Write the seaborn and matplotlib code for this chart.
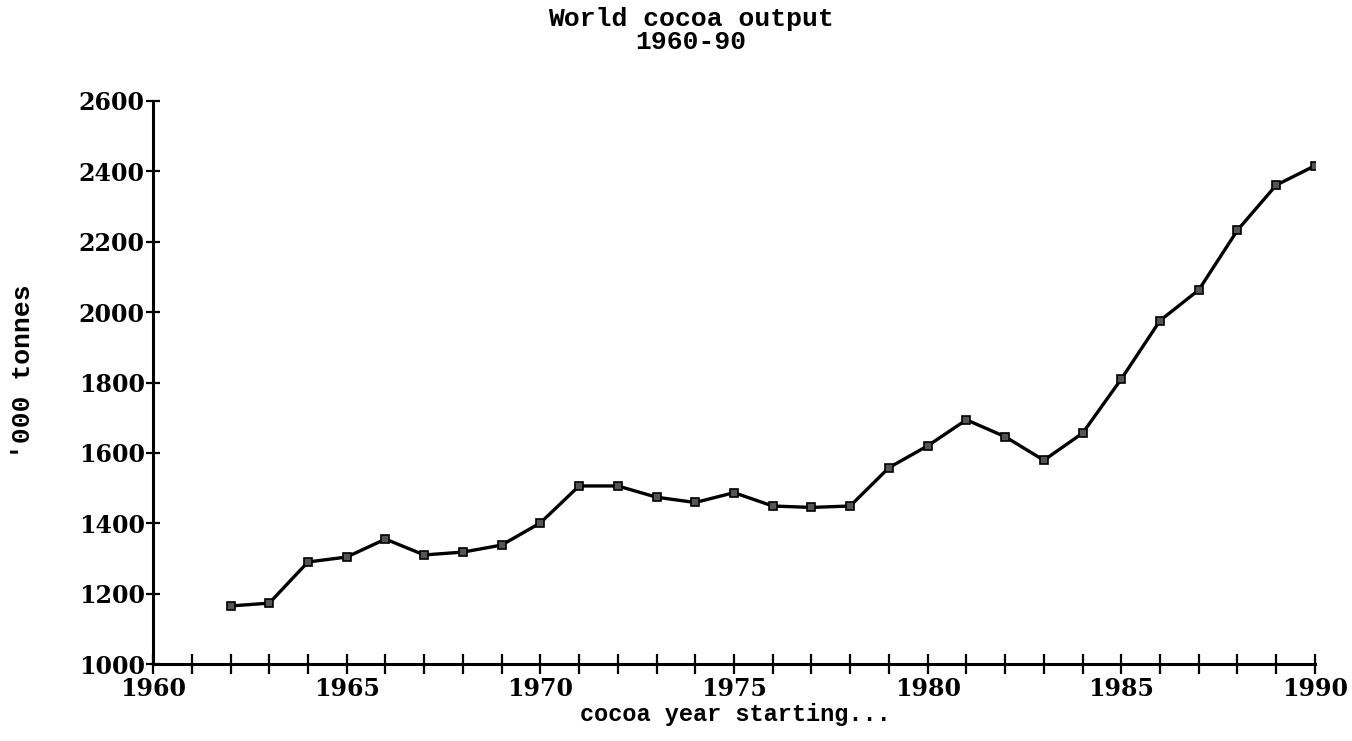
import matplotlib
matplotlib.use("Agg")
import matplotlib.pyplot as plt
import seaborn as sns
import pandas as pd

# World cocoa output, thousand tonnes, by cocoa year
years = list(range(1962, 1991))
output_kt = [1165, 1173, 1290, 1304, 1355, 1310, 1318, 1338, 1401, 1506,
             1506, 1474, 1459, 1487, 1449, 1445, 1449, 1558, 1620, 1694,
             1646, 1579, 1656, 1810, 1976, 2063, 2233, 2361, 2416]

y_ticks = [1000, 1200, 1400, 1600, 1800, 2000, 2200, 2400, 2600]
x_ticks = [1960, 1965, 1970, 1975, 1980, 1985, 1990]

df = pd.DataFrame({"year": years, "output": output_kt})

sns.set_style("white")
plt.rcParams["font.family"] = ["DejaVu Serif"]
plt.rcParams["text.color"] = "black"
plt.rcParams["xtick.color"] = "black"
plt.rcParams["ytick.color"] = "black"
plt.rcParams["xtick.labelcolor"] = "black"
plt.rcParams["ytick.labelcolor"] = "black"

fig = plt.figure(figsize=(13.52, 7.41), dpi=100)
ax = fig.add_axes([0.1132, 0.1039, 0.8594, 0.7598])

sns.lineplot(data=df, x="year", y="output", ax=ax, color="black",
             linewidth=2.4, marker="s", markersize=6,
             markerfacecolor="#555555", markeredgecolor="black",
             markeredgewidth=1.2)

ax.set_xlim(1960, 1990)
ax.set_ylim(1000, 2600)
ax.set_yticks(y_ticks)
ax.set_xticks(x_ticks)
ax.set_xticks(range(1960, 1991), minor=True)

for s in ["top", "right"]:
    ax.spines[s].set_visible(False)
for s in ["left", "bottom"]:
    ax.spines[s].set_linewidth(2.2)
    ax.spines[s].set_color("black")

ax.tick_params(axis="both", which="both", direction="inout", color="black",
               labelcolor="black", width=1.6, bottom=True, left=True)
ax.tick_params(axis="x", which="both", length=14, pad=2)
ax.tick_params(axis="y", which="major", length=10, pad=1)
ax.tick_params(axis="both", labelsize=17)
for lab in ax.get_xticklabels() + ax.get_yticklabels():
    lab.set_fontweight("bold")

mono = ["Liberation Mono", "DejaVu Sans Mono"]
ax.set_xlabel("")
ax.set_ylabel("")
fig.text(0.5437, 0.036, "cocoa year starting...", ha="center", va="center",
         fontsize=17, fontweight="bold", family=mono, color="black")
fig.text(0.017, 0.498, "'000 tonnes", ha="center", va="center",
         rotation=90, fontsize=19, fontweight="bold", family=mono,
         color="black")
fig.text(0.511, 0.990, "World cocoa output\n1960-90", ha="center", va="top",
         fontsize=19, fontweight="bold", family=mono, linespacing=0.95,
         color="black")

fig.savefig("out.png", dpi=100, facecolor="white")
